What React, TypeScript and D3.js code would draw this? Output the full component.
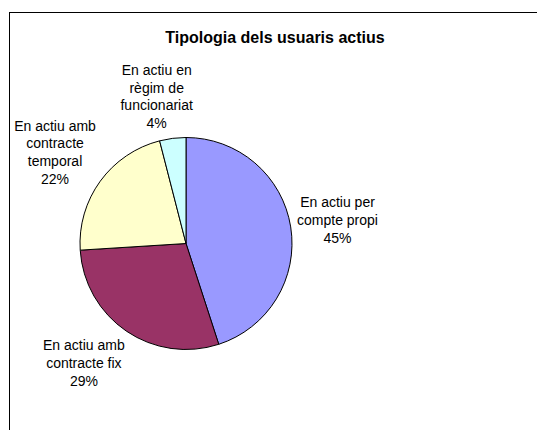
import React from "react";
import * as d3 from "d3";

const categories = [
  ["En actiu per", "compte propi"],
  ["En actiu amb", "contracte fix"],
  ["En actiu amb", "contracte", "temporal"],
  ["En actiu en", "règim de", "funcionariat"],
];
const values = [45, 29, 22, 4];
const colors = ["#9999FF", "#993366", "#FFFFCC", "#CCFFFF"];
const title = "Tipologia dels usuaris actius";
// layout: best-fit nudges of the label boxes away from the plain centroid
const labelNudge: [number, number][] = [
  [-1.6, 1],
  [-15, -8.4],
  [-5.6, 0],
  [-9.9, 6.9],
];

export default function App() {
  const W = 537;
  const H = 430;
  const cx = 186;
  const cy = 243.5;
  const R = 106;
  const labelR = 155;
  const lineH = 17.7;

  const total = d3.sum(values);
  const pie = d3
    .pie<number>()
    .sort(null)
    .value((d) => d)
    .startAngle(0)
    .endAngle(2 * Math.PI);
  const arcs = pie(values);
  const arc = d3.arc<d3.PieArcDatum<number>>().innerRadius(0).outerRadius(R);
  const labelArc = d3
    .arc<d3.PieArcDatum<number>>()
    .innerRadius(labelR)
    .outerRadius(labelR);

  return (
    <div style={{ position: "fixed", left: 0, top: 0 }}>
      <svg width={W} height={H} style={{ display: "block", fontFamily: "'Liberation Sans', Arial, sans-serif" }}>
        <rect x={0} y={0} width={W} height={H} fill="#fff" />
        <rect x={9.5} y={12.5} width={700} height={600} fill="#fff" stroke="#000" strokeWidth={1} />
        <text x={275} y={43} textAnchor="middle" fontSize={16} fontWeight="bold" fill="#000">
          {title}
        </text>
        <g transform={`translate(${cx},${cy})`}>
          {arcs.map((a, i) => (
            <path key={i} d={arc(a) || ""} fill={colors[i]} stroke="#000" strokeWidth={1} />
          ))}
          {arcs.map((a, i) => {
            const [x0, y0] = labelArc.centroid(a);
            const lx = x0 + labelNudge[i][0];
            const ly = y0 + labelNudge[i][1];
            const lines = [...categories[i], `${Math.round((values[i] / total) * 100)}%`];
            const n = lines.length;
            const top = ly - ((n - 1) * lineH) / 2;
            return (
              <text key={`l${i}`} textAnchor="middle" fontSize={14} fill="#000">
                {lines.map((t, j) => (
                  <tspan key={j} x={lx} y={top + j * lineH} dy="0.35em">
                    {t}
                  </tspan>
                ))}
              </text>
            );
          })}
        </g>
      </svg>
    </div>
  );
}
